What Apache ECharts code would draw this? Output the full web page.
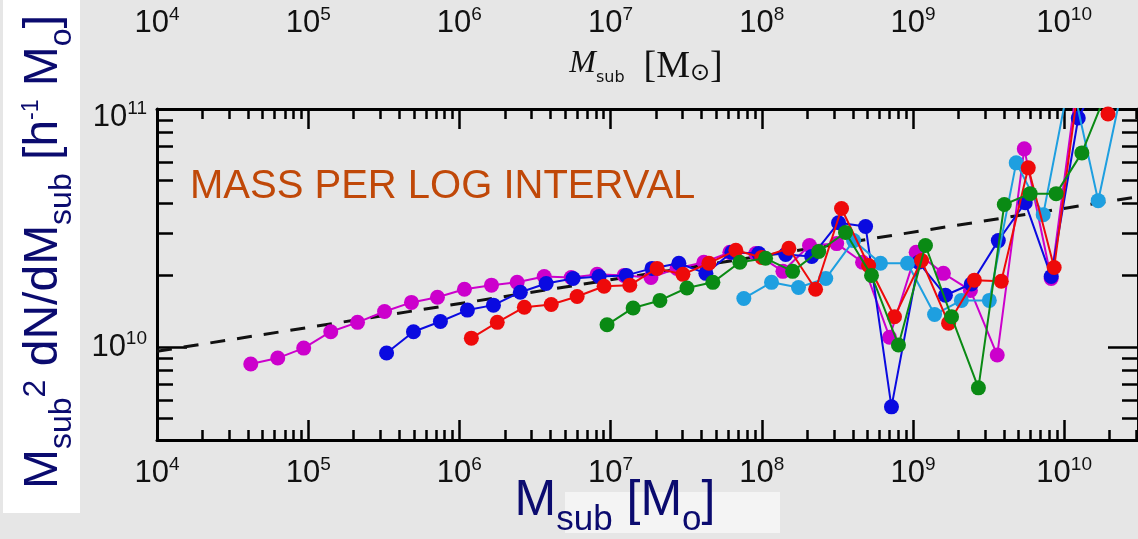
<!DOCTYPE html>
<html><head><meta charset="utf-8">
<script src="https://cdn.jsdelivr.net/npm/echarts@6/dist/echarts.min.js"></script>
<style>html,body{margin:0;padding:0;background:#e6e6e6;}#c{width:1138px;height:539px;}</style>
</head><body><div id="c"></div>
<script>
// ---------- data ----------
const xMin = 1e4, xMax = 3.08e10, yMin = 4.07e9, yMax = 1e11;
const xMajorTicks = [1e4, 1e5, 1e6, 1e7, 1e8, 1e9, 1e10];
const yMajorTicks = [1e10, 1e11];

const magentaMass = [4.17e4, 6.29e4, 9.34e4, 1.41e5, 2.12e5, 3.20e5, 4.82e5, 7.16e5, 1.08e6, 1.63e6, 2.41e6, 3.64e6, 5.49e6, 8.15e6, 1.23e7, 1.85e7, 2.75e7, 4.14e7, 6.15e7, 9.13e7, 1.38e8, 2.07e8, 3.13e8, 4.64e8, 7.00e8, 1.05e9, 1.59e9, 2.40e9, 3.61e9, 5.45e9, 8.21e9, 1.24e10];
const magentaValue = [8.49e9, 8.99e9, 9.9e9, 1.16e10, 1.27e10, 1.41e10, 1.54e10, 1.62e10, 1.75e10, 1.82e10, 1.87e10, 1.98e10, 1.96e10, 2.02e10, 2.00e10, 1.96e10, 2.14e10, 2.27e10, 2.50e10, 2.47e10, 2.08e10, 2.67e10, 2.72e10, 2.27e10, 1.10e10, 2.50e10, 2.04e10, 1.73e10, 9.26e9, 6.80e10, 1.94e10, 1.4e11];

const blueMass = [3.30e5, 4.97e5, 7.49e5, 1.13e6, 1.68e6, 2.53e6, 3.75e6, 5.65e6, 8.40e6, 1.27e7, 1.88e7, 2.83e7, 4.27e7, 6.34e7, 9.55e7, 1.44e8, 2.14e8, 3.22e8, 4.86e8, 7.21e8, 1.09e9, 1.64e9, 2.43e9, 3.67e9, 5.53e9, 8.21e9, 1.24e10, 1.86e10];
const blueValue = [9.44e9, 1.16e10, 1.28e10, 1.43e10, 1.50e10, 1.70e10, 1.85e10, 1.94e10, 1.98e10, 2.00e10, 2.14e10, 2.25e10, 2.04e10, 2.50e10, 2.47e10, 2.45e10, 2.40e10, 3.33e10, 3.21e10, 5.61e9, 2.27e10, 1.65e10, 1.84e10, 2.80e10, 4.04e10, 1.98e10, 9.17e10, 1.5e11];

const redMass = [1.20e6, 1.78e6, 2.69e6, 4.05e6, 6.01e6, 9.06e6, 1.34e7, 2.03e7, 3.01e7, 4.47e7, 6.74e7, 1.00e8, 1.51e8, 2.27e8, 3.37e8, 5.09e8, 7.55e8, 1.14e9, 1.72e9, 2.55e9, 3.84e9, 5.79e9, 8.59e9, 1.29e10, 1.95e10];
const redValue = [1.09e10, 1.27e10, 1.47e10, 1.51e10, 1.63e10, 1.80e10, 1.82e10, 2.14e10, 2.02e10, 2.25e10, 2.55e10, 2.38e10, 2.60e10, 1.75e10, 3.82e10, 2.20e10, 1.34e10, 2.31e10, 1.26e10, 1.91e10, 1.89e10, 5.66e10, 2.16e10, 1.5e11, 9.53e10];

const greenMass = [9.48e6, 1.41e7, 2.12e7, 3.20e7, 4.75e7, 7.16e7, 1.06e8, 1.60e8, 2.38e8, 3.58e8, 5.32e8, 8.02e8, 1.21e9, 1.80e9, 2.71e9, 4.02e9, 5.96e9, 8.85e9, 1.31e10, 1.98e10];
const greenValue = [1.24e10, 1.46e10, 1.57e10, 1.77e10, 1.87e10, 2.27e10, 2.36e10, 2.08e10, 2.52e10, 3.03e10, 2.00e10, 1.02e10, 2.67e10, 1.34e10, 6.74e9, 3.97e10, 4.41e10, 4.41e10, 6.54e10, 1.25e11];

const cyanMass = [7.61e7, 1.16e8, 1.75e8, 2.65e8, 4.05e8, 6.10e8, 9.20e8, 1.39e9, 2.09e9, 3.20e9, 4.82e9, 7.27e9, 1.10e10, 1.68e10, 2.53e10];
const cyanValue = [1.60e10, 1.87e10, 1.78e10, 1.94e10, 2.80e10, 2.25e10, 2.25e10, 1.37e10, 1.57e10, 1.57e10, 5.94e10, 3.60e10, 1.4e11, 4.12e10, 1.4e11];

const fitMass = [1e4, 3.08e10];
const fitValue = [9.6e9, 4.28e10];

// ---------- helpers ----------
function minorTicks(lo, hi) {
  const out = [];
  for (let d = Math.floor(Math.log10(lo)); d <= Math.ceil(Math.log10(hi)); d++) {
    for (let k = 2; k <= 9; k++) {
      const v = k * Math.pow(10, d);
      if (v > lo && v < hi) out.push(v);
    }
  }
  return out;
}
const xMinorTicks = minorTicks(xMin, xMax);
const yMinorTicks = minorTicks(yMin, yMax);

const F = "'Liberation Sans', Arial, Helvetica, sans-serif";
const labelRich = {
  b: { fontSize: 31, lineHeight: 36, fontFamily: F, color: '#111' },
  s: { fontSize: 19, lineHeight: 18, verticalAlign: 'top', fontFamily: F, color: '#111' }
};
function xLabel(v) { return '{b|10}{s|' + Math.round(Math.log10(v)) + '}'; }
function yLabel(v) {
  const e = Math.round(Math.log10(v));
  return (v >= yMax * 0.999 ? '\n' : '') + '{b|10}{s|' + e + '}';
}
const blk = { color: '#000', width: 2.5 };

function xAx(pos, major, showLine) {
  return {
    type: 'log', logBase: 10, min: xMin, max: xMax, position: pos, gridIndex: 0,
    axisLine: { show: showLine, onZero: false, lineStyle: { color: '#000', width: 3 } },
    axisTick: { show: true, inside: true, length: major ? 20 : 10, customValues: major ? xMajorTicks : xMinorTicks, lineStyle: blk },
    axisLabel: major ? { show: true, customValues: xMajorTicks, margin: pos === 'top' ? 67.5 : 15, formatter: xLabel, rich: labelRich, color: '#111', fontSize: 16, lineHeight: 16 } : { show: false },
    splitLine: { show: false }, minorTick: { show: false }, minorSplitLine: { show: false }
  };
}
function yAx(pos, major, showLabel) {
  return {
    type: 'log', logBase: 10, min: yMin, max: yMax, position: pos, gridIndex: 0,
    axisLine: { show: major, onZero: false, lineStyle: { color: '#000', width: 3 } },
    axisTick: { show: true, inside: true, length: major ? 30 : 16, customValues: major ? yMajorTicks : yMinorTicks, lineStyle: blk },
    axisLabel: showLabel ? { show: true, customValues: yMajorTicks, margin: 10, formatter: yLabel, rich: labelRich, color: '#111', fontSize: 16, lineHeight: 16 } : { show: false },
    splitLine: { show: false }, minorTick: { show: false }, minorSplitLine: { show: false }
  };
}
function pts(m, v) { return m.map((x, i) => [x, v[i]]); }
function dots(name, m, v, color, z) {
  return {
    name, type: 'line', xAxisIndex: 0, yAxisIndex: 0, data: pts(m, v),
    symbol: 'circle', symbolSize: 15, showSymbol: true, clip: true, z,
    lineStyle: { width: 2, color }, itemStyle: { color }, emphasis: { disabled: true }
  };
}

const navy = '#0b0b6f';
const yTitleRich = {
  m: { fontSize: 48, lineHeight: 58, verticalAlign: 'top', fontFamily: F, fill: navy },
  sb: { fontSize: 32, lineHeight: 32, verticalAlign: 'bottom', fontFamily: F, fill: navy },
  sp: { fontSize: 32, lineHeight: 32, verticalAlign: 'top', fontFamily: F, fill: navy },
  sp1: { fontSize: 23, lineHeight: 23, verticalAlign: 'top', fontFamily: F, fill: navy }
};
const xTitleRich = {
  m: { fontSize: 50, lineHeight: 62, verticalAlign: 'top', fontFamily: F, fill: navy },
  sb: { fontSize: 35, lineHeight: 35, verticalAlign: 'bottom', fontFamily: F, fill: navy }
};
const SF = "'Liberation Serif', 'DejaVu Serif', serif";
const topTitleRich = {
  mi: { fontSize: 32, lineHeight: 38, verticalAlign: 'top', fontStyle: 'italic', fontFamily: SF, fill: '#111' },
  sb: { fontSize: 16, lineHeight: 16, verticalAlign: 'bottom', fontFamily: "'DejaVu Sans', sans-serif", fill: '#111' },
  up: { fontSize: 38, lineHeight: 38, verticalAlign: 'bottom', fontFamily: SF, fill: '#111' },
  os: { fontSize: 24, lineHeight: 24, verticalAlign: 'bottom', fontFamily: "'DejaVu Sans', sans-serif", fill: '#111' }
};

const chart = echarts.init(document.getElementById('c'), null, { renderer: 'canvas' });
chart.setOption({
  animation: false,
  backgroundColor: '#e6e6e6',
  grid: { left: 157, top: 109, width: 983, height: 331, containLabel: false },
  xAxis: [xAx('bottom', true, true), xAx('bottom', false, false), xAx('top', true, true), xAx('top', false, false)],
  yAxis: [yAx('left', true, true), yAx('left', false, false), yAx('right', true, false), yAx('right', false, false)],
  series: [
    { name: 'fit', type: 'line', xAxisIndex: 0, yAxisIndex: 0, data: pts(fitMass, fitValue), symbol: 'none', z: 1,
      lineStyle: { color: '#111', width: 3, type: [15, 12] }, emphasis: { disabled: true } },
    dots('magenta', magentaMass, magentaValue, '#cc00cc', 2),
    dots('blue', blueMass, blueValue, '#0a0ae0', 3),
    dots('cyan', cyanMass, cyanValue, '#1e9fe0', 4),
    dots('red', redMass, redValue, '#ee0a0a', 5),
    dots('green', greenMass, greenValue, '#0a8a14', 6)
  ],
  graphic: [
    { type: 'rect', shape: { x: 3, y: 0, width: 77, height: 513 }, style: { fill: '#ffffff' }, silent: true },
    { type: 'rect', shape: { x: 565, y: 492, width: 215, height: 41 }, style: { fill: '#f4f4f4' }, silent: true },
    { type: 'text', x: 49, y: 252, rotation: Math.PI / 2, silent: true,
      style: { text: '{m|M}{sb|sub}{sp|2}{m| dN/dM}{sb|sub}{m| [h}{sp1|-1}{m| M}{sb|o}{m|]}', align: 'center', verticalAlign: 'middle', fill: navy, rich: yTitleRich } },
    { type: 'text', x: 615, y: 507, silent: true,
      style: { text: '{m|M}{sb|sub}{m| [M}{sb|o}{m|]}', align: 'center', verticalAlign: 'middle', fill: navy, rich: xTitleRich } },
    { type: 'text', x: 646, y: 67, silent: true,
      style: { text: '{mi|M}{sb|sub}{up|  [M}{os|⊙}{up|]}', align: 'center', verticalAlign: 'middle', fill: '#111', rich: topTitleRich } },
    { type: 'text', x: 190, y: 187, silent: true,
      style: { text: 'MASS PER LOG INTERVAL', fill: '#c04808', fontSize: 40, fontFamily: F, align: 'left', verticalAlign: 'middle' } }
  ]
});
</script>
</body></html>
